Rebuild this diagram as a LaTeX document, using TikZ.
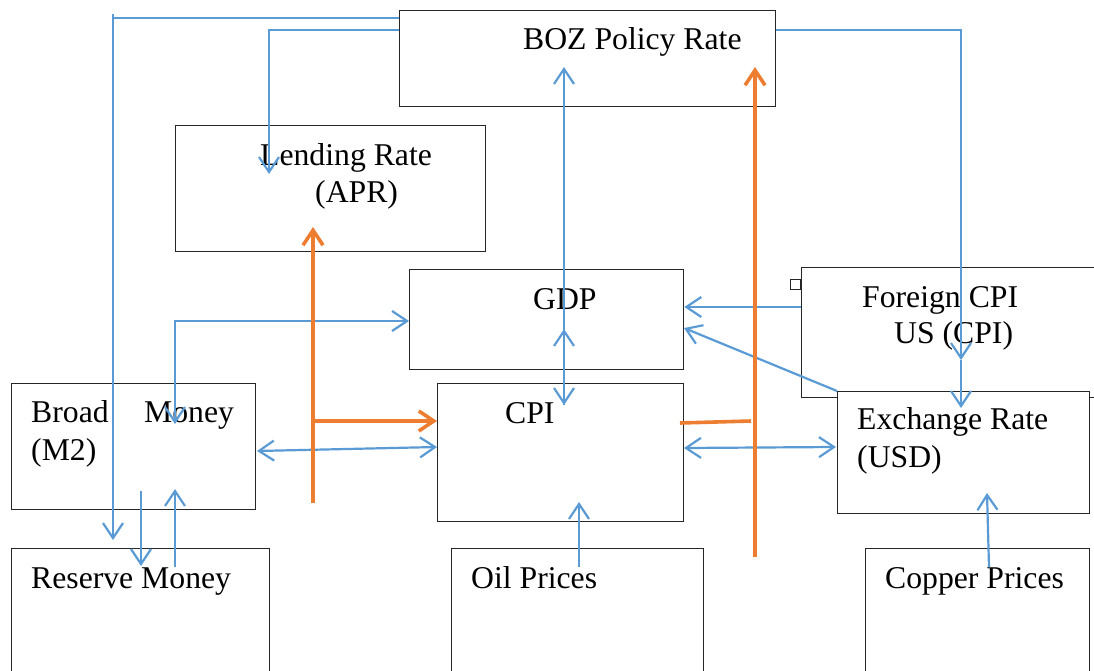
\documentclass[tikz,border=0pt]{standalone}
\usepackage{fontspec}
\setmainfont{Liberation Serif}
\usetikzlibrary{arrows.meta}
\definecolor{lineblue}{HTML}{5B9BD5}
\definecolor{lineorange}{HTML}{ED7D31}
\begin{document}
\begin{tikzpicture}[x=1pt,y=-1pt,
  >={Straight Barb[length=15pt,width=20pt]},
  box/.style={draw=black!85, line width=1.3pt, fill=white, inner sep=0pt, anchor=north west},
  lbl/.style={font=\fontsize{31.7}{37}\selectfont, inner sep=0pt, anchor=base west},
  bl/.style={draw=lineblue, line width=2.2pt},
  orl/.style={draw=lineorange, line width=3.6pt}]
\clip (0,0) rectangle (1094,671);
\fill[white] (0,0) rectangle (1094,671);
% boxes
\node[box, minimum width=376pt, minimum height=96pt] (boz) at (399,10) {};
\node[box, minimum width=310pt, minimum height=126pt] (lend) at (175,125) {};
\node[box, minimum width=274pt, minimum height=100pt] (gdp) at (409,269) {};
\node[box, minimum width=246pt, minimum height=138pt] (cpi) at (437,383) {};
\node[box, minimum width=244pt, minimum height=126pt] (broad) at (11,383) {};
\node[box, minimum width=258pt, minimum height=200pt] (res) at (11,548) {};
\node[box, minimum width=252pt, minimum height=200pt] (oil) at (451,548) {};
\node[box, minimum width=350pt, minimum height=130pt] (foreign) at (801,267) {};
\node[box, minimum width=252pt, minimum height=122pt] (exch) at (837,391) {};
\node[box, minimum width=224pt, minimum height=200pt] (copper) at (865,548) {};
\node[draw=black!85, line width=1pt, fill=white, minimum size=10pt, inner sep=0pt, anchor=north east] (handle) at (801,279) {};
% labels
\node[lbl] (tboz) at (523,50) {BOZ Policy Rate};
\node[lbl] (tlend) at (260,166) {Lending Rate};
\node[lbl] (tapr) at (315,203) {(APR)};
\node[lbl] (tgdp) at (533,309) {GDP};
\node[lbl] (tcpi) at (505,423) {CPI};
\node[lbl] (tbroad) at (31,422) {Broad};
\node[lbl] (tmoney) at (144,422) {Money};
\node[lbl] (tm2) at (31,460) {(M2)};
\node[lbl] (tres) at (31,588) {Reserve Money};
\node[lbl] (toil) at (471,588) {Oil Prices};
\node[lbl] (tcop) at (885,588) {Copper Prices};
\node[lbl] (tfor) at (862,307) {Foreign CPI};
\node[lbl] (tus) at (894,343) {US (CPI)};
\node[lbl] (texch) at (857,429) {Exchange Rate};
\node[lbl] (tusd) at (857,467) {(USD)};
% coordinates
\coordinate (a0) at (113,14);
\coordinate (a1) at (113,18);
\coordinate (a2) at (113,540);
\coordinate (b1) at (269,30);
\coordinate (b2) at (269,174);
\coordinate (c1) at (961,30);
\coordinate (c2) at (961,360);
\coordinate (c3) at (961,408);
\coordinate (d1) at (564,405);
\coordinate (d2) at (564,67);
\coordinate (e1) at (564,329);
\coordinate (f1) at (755,557);
\coordinate (f2) at (755,67);
\coordinate (g1) at (313,503);
\coordinate (g2) at (313,227);
\coordinate (h1) at (313,421);
\coordinate (i1) at (680,423);
\coordinate (i2) at (751,421);
\coordinate (j1) at (175,424);
\coordinate (j2) at (175,321);
\coordinate (k1) at (257,451);
\coordinate (k2) at (437,447);
\coordinate (l1) at (141,491);
\coordinate (l2) at (141,566);
\coordinate (m1) at (175,567);
\coordinate (m2) at (175,489);
\coordinate (n1) at (801,307);
\coordinate (o1) at (684,328);
\coordinate (p1) at (684,448);
\coordinate (p2) at (836,447);
\coordinate (q1) at (989,567);
\coordinate (q2) at (987,493);
\coordinate (r1) at (579,567);
\coordinate (r2) at (579,502);
% blue connectors
\draw[bl] (boz.west |- a1) -- (a1);
\draw[bl,->] (a0) -- (a2);
\draw[bl,->] (boz.west |- b1) -- (b1) -- (b2);
\draw[bl,->] (boz.east |- c1) -- (c1) -- (c2);
\draw[bl,->] (c2) -- (c3);
\draw[bl,->] (d1) -- (d2);
\draw[bl,<->] (e1) -- (d1);
\draw[bl,<->] (j1) -- (j2) -- (j2 -| gdp.west);
\draw[bl,<->] (k1) -- (k2);
\draw[bl,->] (l1) -- (l2);
\draw[bl,->] (m1) -- (m2);
\draw[bl,->] (n1) -- (n1 -| gdp.east);
\draw[bl,->] (exch.north west) -- (o1);
\draw[bl,<->] (p1) -- (p2);
\draw[bl,->] (q1) -- (q2);
\draw[bl,->] (r1) -- (r2);
% orange connectors
\draw[orl,->] (f1) -- (f2);
\draw[orl,->] (g1) -- (g2);
\draw[orl,->] (h1) -- (h1 -| cpi.west);
\draw[orl] (i1) -- (i2);
\end{tikzpicture}
\end{document}
